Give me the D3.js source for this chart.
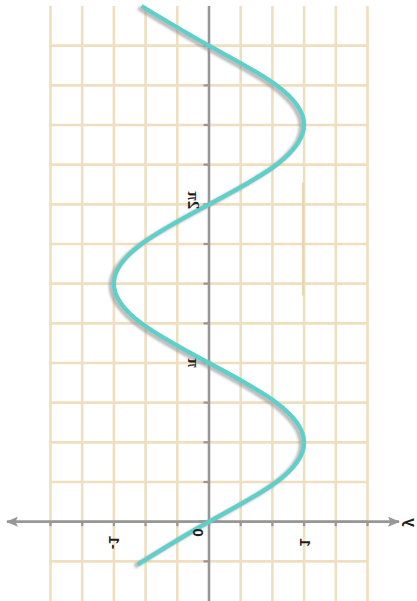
<!DOCTYPE html>
<html><head><meta charset="utf-8">
<script src="https://cdn.jsdelivr.net/npm/d3@7"></script>
<style>html,body{margin:0;padding:0;background:#fff;}svg{display:block;}</style>
</head><body>
<svg id="c" width="417" height="601"></svg>
<script>
// Data: curve samples (theta in quarter-pi units, value)
const thetaQuarters = [-1.08, 0, 1, 2, 3, 4, 5, 6, 7, 8, 9, 10, 11, 12, 13];
const curveValues   = [-0.75, 0, 0.71, 1, 0.71, 0, -0.71, -1, -0.71, 0, 0.71, 1, 0.71, 0, -0.71];
// Grid / tick positions
const valueGrid = [-5/3, -4/3, -1, -2/3, -1/3, 0, 1/3, 2/3, 1, 4/3, 5/3];
const thetaGridQuarters = [-1, 0, 1, 2, 3, 4, 5, 6, 7, 8, 9, 10, 11, 12];
const valueLabels = [{v: -1, t: "-1"}, {v: 1, t: "1"}];
const thetaLabels = [{q: 4, t: "π"}, {q: 8, t: "2π"}];

const svg = d3.select("#c");
const PI4 = Math.PI / 4;
const x = d3.scaleLinear().domain([-5/3, 5/3]).range([50.5, 367.5]);
const y = d3.scaleLinear().domain([-Math.PI / 2, 13 * PI4]).range([601, 6]);

const gridColor = "#efdfbf";
const axisColor = "#979797";

// grid
const g = svg.append("g");
g.selectAll("line.v").data(valueGrid.filter(v => v !== 0)).join("line")
  .attr("x1", d => x(d)).attr("x2", d => x(d))
  .attr("y1", y(13 * PI4)).attr("y2", 601)
  .attr("stroke", gridColor).attr("stroke-width", 2.6);
g.selectAll("line.h").data(thetaGridQuarters).join("line")
  .attr("x1", x(-5/3) - 1.3).attr("x2", x(5/3) + 1.3)
  .attr("y1", d => y(d * PI4)).attr("y2", d => y(d * PI4))
  .attr("stroke", gridColor).attr("stroke-width", 2.6);
// faint extra segment
g.append("line")
  .attr("x1", x(1) - 1).attr("x2", x(1) - 1)
  .attr("y1", y(8.55 * PI4)).attr("y2", y(5.7 * PI4))
  .attr("stroke", "#e9d6b1").attr("stroke-width", 2.2);

// shadow filter
const defs = svg.append("defs");
defs.append("filter").attr("id", "blur").attr("x", "-10%").attr("y", "-10%").attr("width", "120%").attr("height", "120%")
  .append("feGaussianBlur").attr("stdDeviation", 1.3);
defs.append("marker").attr("id", "arr")
  .attr("viewBox", "0 0 12 10").attr("refX", 11).attr("refY", 5)
  .attr("markerWidth", 12).attr("markerHeight", 10).attr("markerUnits", "userSpaceOnUse")
  .attr("orient", "auto").append("path").attr("d", "M0,0 L12,5 L0,10 L2.5,5 Z").attr("fill", axisColor);

// axes
svg.append("line")
  .attr("x1", 199).attr("x2", 399).attr("y1", y(0)).attr("y2", y(0))
  .attr("stroke", axisColor).attr("stroke-width", 2.6).attr("marker-end", "url(#arr)");
svg.append("line")
  .attr("x1", 219).attr("x2", 7).attr("y1", y(0)).attr("y2", y(0))
  .attr("stroke", axisColor).attr("stroke-width", 2.6).attr("marker-end", "url(#arr)");
svg.append("line")
  .attr("x1", x(0)).attr("x2", x(0)).attr("y1", y(13 * PI4)).attr("y2", 601)
  .attr("stroke", axisColor).attr("stroke-width", 2.6);
// ticks
svg.selectAll("line.tx").data(valueGrid.filter(v => v !== 0)).join("line")
  .attr("x1", d => x(d)).attr("x2", d => x(d))
  .attr("y1", y(0)).attr("y2", y(0) + 4.5)
  .attr("stroke", axisColor).attr("stroke-width", 2.2);
svg.selectAll("line.ty").data(thetaGridQuarters.filter(q => q !== 0)).join("line")
  .attr("x1", x(0) - 5.5).attr("x2", x(0))
  .attr("y1", d => y(d * PI4)).attr("y2", d => y(d * PI4))
  .attr("stroke", axisColor).attr("stroke-width", 2.2);

// curve
const pts = thetaQuarters.map((q, i) => [x(curveValues[i]), y(q * PI4)]);
const line = d3.line().curve(d3.curveNatural);
svg.append("path").attr("d", line(pts))
  .attr("transform", "translate(-3,2)")
  .attr("fill", "none").attr("stroke", "#9a9a9a").attr("stroke-opacity", 0.65)
  .attr("stroke-width", 4.8).attr("filter", "url(#blur)");
svg.append("path").attr("d", line(pts))
  .attr("fill", "none").attr("stroke", "#5fcfca").attr("stroke-width", 4.3);

// labels (transposed text)
const tr = (px, py) => `matrix(0,-1,-1,0,${px},${py})`;
const lab = (px, py, t, fam, size) => svg.append("text")
  .attr("transform", tr(px, py))
  .attr("text-anchor", "middle").attr("dominant-baseline", "central")
  .attr("font-family", fam).attr("font-size", size).attr("font-weight", "bold")
  .attr("fill", "#1e1e1e").text(t);
valueLabels.forEach(d => lab(x(d.v) + 1, y(0) + 21, d.t, "Liberation Sans, Arial, sans-serif", 15));
lab(x(0) - 11, y(0) + 11, "0", "Liberation Sans, Arial, sans-serif", 15);
thetaLabels.forEach(d => lab(x(0) - 16, y(d.q * PI4) + (d.q === 8 ? -4 : 0), d.t, "Liberation Serif, Times New Roman, serif", 17));
lab(410, y(0) + 1, "y", "Liberation Sans, Arial, sans-serif", 16);
</script>
</body></html>
